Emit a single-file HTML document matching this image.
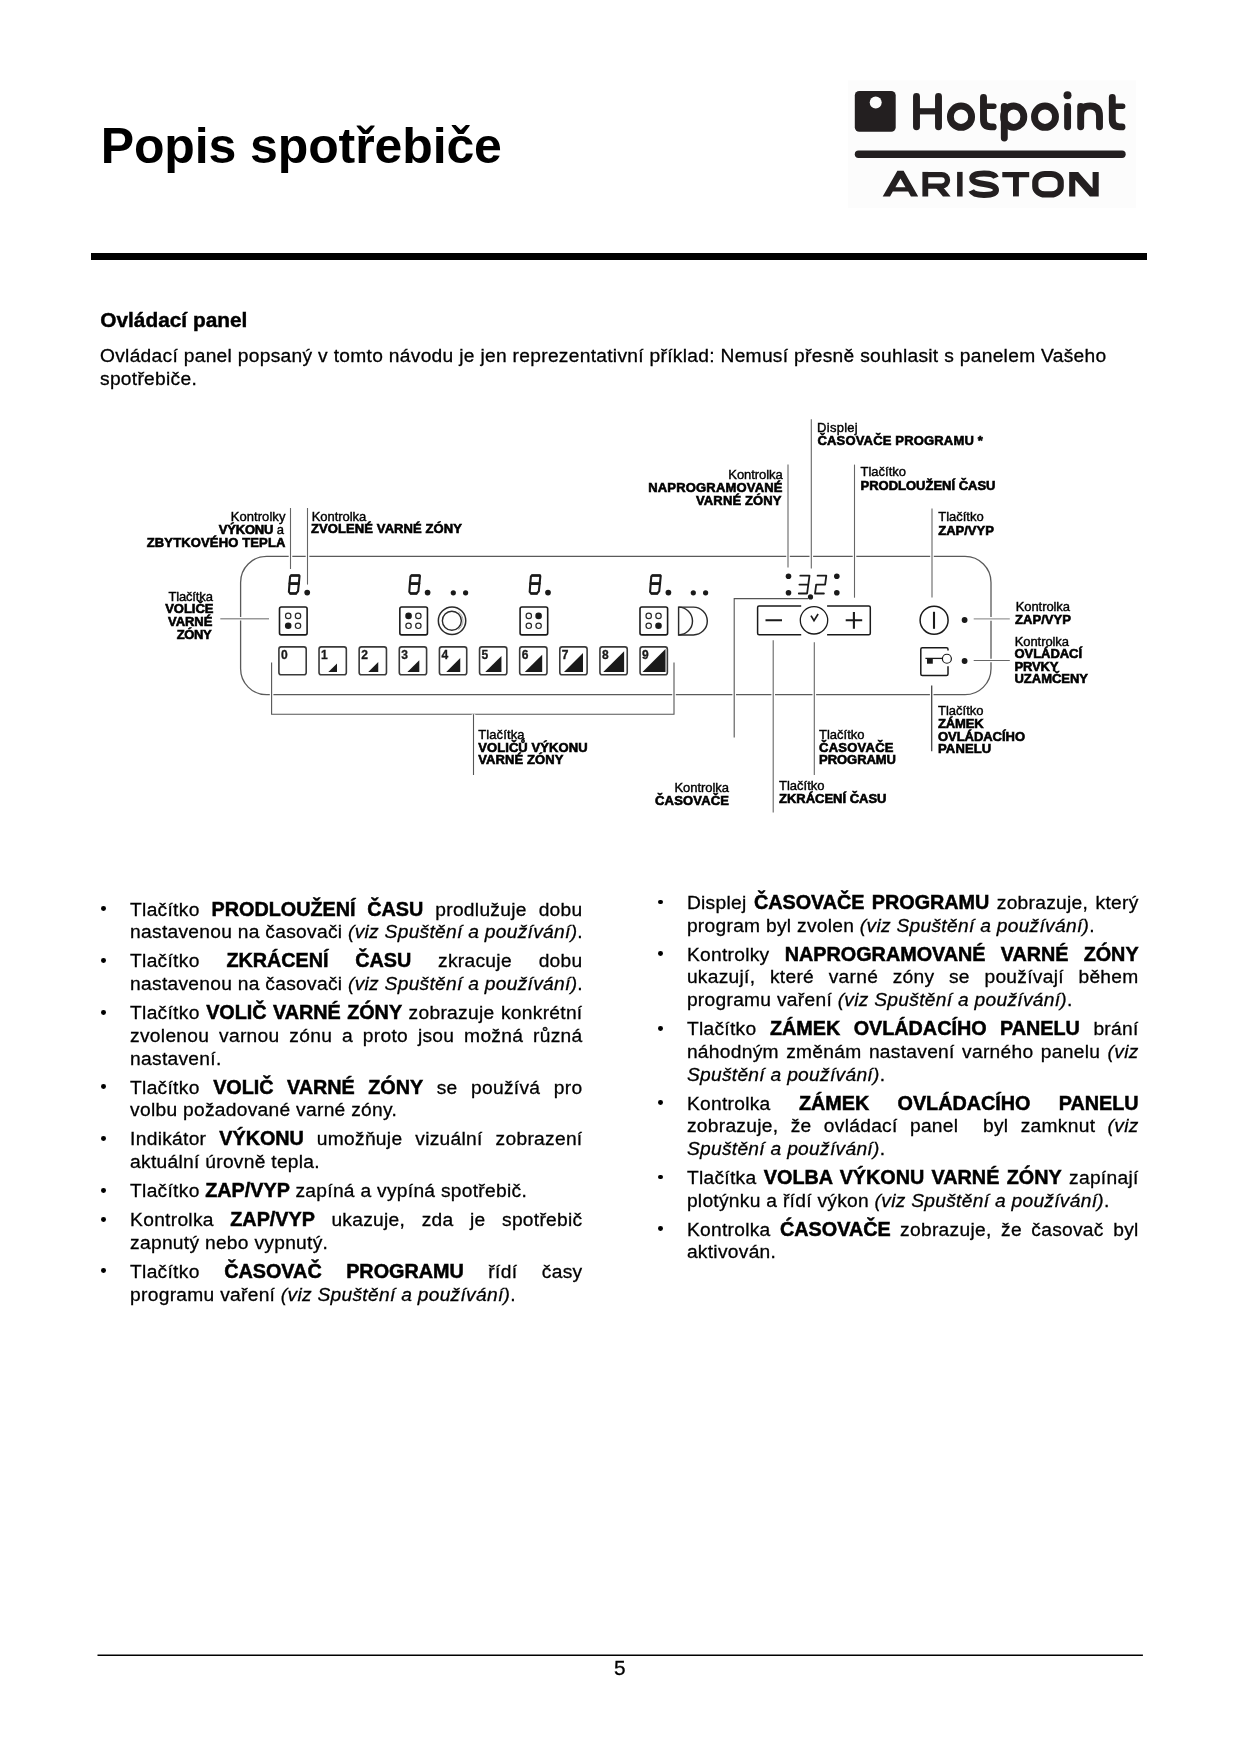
<!DOCTYPE html>
<html lang="cs"><head><meta charset="utf-8"><title>Popis spotřebiče</title>
<style>
html,body{margin:0;padding:0;background:#fff;}
body{width:1240px;height:1754px;position:relative;overflow:hidden;font-family:"Liberation Sans",sans-serif;color:#000;}
.ln{position:absolute;white-space:nowrap;line-height:22px;height:22px;font-size:19.2px;letter-spacing:0.29px;-webkit-text-stroke:0.3px #000;}
.bl{position:absolute;width:4.9px;height:4.9px;border-radius:50%;background:#000;}
svg{position:absolute;left:0;top:0;}
svg text{font-family:"Liberation Sans",sans-serif;font-size:13px;fill:#000;}
.b{font-weight:bold;}
svg .r{stroke:#000;stroke-width:0.4px;}
svg .b{stroke:#000;stroke-width:0.6px;}
.ln b{font-size:19.79px;letter-spacing:0;line-height:0;-webkit-text-stroke:0.5px #000;}
#pg{position:absolute;left:0;top:0;width:1240px;height:1754px;will-change:transform;background:#fff;}
</style></head><body><div id="pg">
<div style="position:absolute;left:100.7px;top:118.2px;font-size:50px;font-weight:bold;line-height:56px;letter-spacing:-0.11px;white-space:nowrap;">Popis spotřebiče</div>
<div style="position:absolute;left:91.3px;top:253.2px;width:1055.7px;height:6.5px;background:#000;"></div>
<div style="position:absolute;left:100.3px;top:307.6px;font-size:20.83px;font-weight:bold;line-height:24px;-webkit-text-stroke:0.45px #000;white-space:nowrap;">Ovládací panel</div>
<div class="ln" style="left:100.00px;top:345px;width:1006.50px;text-align:justify;text-align-last:justify;">Ovládací panel popsaný v tomto návodu je jen reprezentativní příklad: Nemusí přesně souhlasit s panelem Vašeho</div>
<div class="ln" style="left:100.00px;top:368px;width:300.00px;">spotřebiče.</div>
<div class="bl" style="left:100.95px;top:906.30px;"></div>
<div class="ln" style="left:130.10px;top:899px;width:452.40px;text-align:justify;text-align-last:justify;">Tlačítko <b>PRODLOUŽENÍ ČASU</b> prodlužuje dobu</div>
<div class="ln" style="left:130.10px;top:921px;width:452.40px;text-align:justify;text-align-last:justify;">nastavenou na časovači <i>(viz Spuštění a používání)</i>.</div>
<div class="bl" style="left:100.95px;top:958.02px;"></div>
<div class="ln" style="left:130.10px;top:950px;width:452.40px;text-align:justify;text-align-last:justify;">Tlačítko <b>ZKRÁCENÍ ČASU</b> zkracuje dobu</div>
<div class="ln" style="left:130.10px;top:973px;width:452.40px;text-align:justify;text-align-last:justify;">nastavenou na časovači <i>(viz Spuštění a používání)</i>.</div>
<div class="bl" style="left:100.95px;top:1009.74px;"></div>
<div class="ln" style="left:130.10px;top:1002px;width:452.40px;text-align:justify;text-align-last:justify;">Tlačítko <b>VOLIČ VARNÉ ZÓNY</b> zobrazuje konkrétní</div>
<div class="ln" style="left:130.10px;top:1025px;width:452.40px;text-align:justify;text-align-last:justify;">zvolenou varnou zónu a proto jsou možná různá</div>
<div class="ln" style="left:130.10px;top:1048px;width:452.40px;">nastavení.</div>
<div class="bl" style="left:100.95px;top:1084.19px;"></div>
<div class="ln" style="left:130.10px;top:1077px;width:452.40px;text-align:justify;text-align-last:justify;">Tlačítko <b>VOLIČ VARNÉ ZÓNY</b> se používá pro</div>
<div class="ln" style="left:130.10px;top:1099px;width:452.40px;">volbu požadované varné zóny.</div>
<div class="bl" style="left:100.95px;top:1135.91px;"></div>
<div class="ln" style="left:130.10px;top:1128px;width:452.40px;text-align:justify;text-align-last:justify;">Indikátor <b>VÝKONU</b> umožňuje vizuální zobrazení</div>
<div class="ln" style="left:130.10px;top:1151px;width:452.40px;">aktuální úrovně tepla.</div>
<div class="bl" style="left:100.95px;top:1187.63px;"></div>
<div class="ln" style="left:130.10px;top:1180px;width:452.40px;">Tlačítko <b>ZAP/VYP</b> zapíná a vypíná spotřebič.</div>
<div class="bl" style="left:100.95px;top:1216.62px;"></div>
<div class="ln" style="left:130.10px;top:1209px;width:452.40px;text-align:justify;text-align-last:justify;">Kontrolka <b>ZAP/VYP</b> ukazuje, zda je spotřebič</div>
<div class="ln" style="left:130.10px;top:1232px;width:452.40px;">zapnutý nebo vypnutý.</div>
<div class="bl" style="left:100.95px;top:1268.34px;"></div>
<div class="ln" style="left:130.10px;top:1261px;width:452.40px;text-align:justify;text-align-last:justify;">Tlačítko <b>ČASOVAČ PROGRAMU</b> řídí časy</div>
<div class="ln" style="left:130.10px;top:1284px;width:452.40px;">programu vaření <i>(viz Spuštění a používání)</i>.</div>
<div class="bl" style="left:658.05px;top:899.50px;"></div>
<div class="ln" style="left:686.90px;top:892px;width:451.70px;text-align:justify;text-align-last:justify;">Displej <b>ČASOVAČE PROGRAMU</b> zobrazuje, který</div>
<div class="ln" style="left:686.90px;top:915px;width:451.70px;">program byl zvolen <i>(viz Spuštění a používání)</i>.</div>
<div class="bl" style="left:658.05px;top:951.22px;"></div>
<div class="ln" style="left:686.90px;top:944px;width:451.70px;text-align:justify;text-align-last:justify;">Kontrolky <b>NAPROGRAMOVANÉ VARNÉ ZÓNY</b></div>
<div class="ln" style="left:686.90px;top:966px;width:451.70px;text-align:justify;text-align-last:justify;">ukazují, které varné zóny se používají během</div>
<div class="ln" style="left:686.90px;top:989px;width:451.70px;">programu vaření <i>(viz Spuštění a používání)</i>.</div>
<div class="bl" style="left:658.05px;top:1025.67px;"></div>
<div class="ln" style="left:686.90px;top:1018px;width:451.70px;text-align:justify;text-align-last:justify;">Tlačítko <b>ZÁMEK OVLÁDACÍHO PANELU</b> brání</div>
<div class="ln" style="left:686.90px;top:1041px;width:451.70px;text-align:justify;text-align-last:justify;">náhodným změnám nastavení varného panelu <i>(viz</i></div>
<div class="ln" style="left:686.90px;top:1064px;width:451.70px;"><i>Spuštění a používání)</i>.</div>
<div class="bl" style="left:658.05px;top:1100.12px;"></div>
<div class="ln" style="left:686.90px;top:1093px;width:451.70px;text-align:justify;text-align-last:justify;">Kontrolka <b>ZÁMEK OVLÁDACÍHO PANELU</b></div>
<div class="ln" style="left:686.90px;top:1115px;width:451.70px;text-align:justify;text-align-last:justify;">zobrazuje, že ovládací panel&nbsp; byl zamknut <i>(viz</i></div>
<div class="ln" style="left:686.90px;top:1138px;width:451.70px;"><i>Spuštění a používání)</i>.</div>
<div class="bl" style="left:658.05px;top:1174.57px;"></div>
<div class="ln" style="left:686.90px;top:1167px;width:451.70px;text-align:justify;text-align-last:justify;">Tlačítka <b>VOLBA VÝKONU VARNÉ ZÓNY</b> zapínají</div>
<div class="ln" style="left:686.90px;top:1190px;width:451.70px;">plotýnku a řídí výkon <i>(viz Spuštění a používání)</i>.</div>
<div class="bl" style="left:658.05px;top:1226.29px;"></div>
<div class="ln" style="left:686.90px;top:1219px;width:451.70px;text-align:justify;text-align-last:justify;">Kontrolka <b>ĆASOVAČE</b> zobrazuje, že časovač byl</div>
<div class="ln" style="left:686.90px;top:1241px;width:451.70px;">aktivován.</div>
<div style="position:absolute;left:599.7px;width:40px;text-align:center;top:1656px;font-size:20.8px;line-height:24px;-webkit-text-stroke:0.3px #000;">5</div>
<svg width="1240" height="1754" viewBox="0 0 1240 1754">
<rect x="848" y="80.5" width="288" height="127.5" fill="#fcfcfc"/>
<rect x="854.8" y="91" width="40.9" height="40.8" rx="4.5" fill="#231f20"/>
<circle cx="875.7" cy="102.5" r="6" fill="#fcfcfc"/>
<path d="M916.5 96.5 V126.8 M938.5 96.5 V126.8 M983.5 97.5 V119.6 Q983.5 126.9 990.8 126.9 H993.2 M1112.3 97.5 V119.6 Q1112.3 126.9 1119.6 126.9 H1122.0 M1004.3 106.5 V138.1 M1067.6 106.5 V126.8 M1080.7 106.5 V126.8 M1080.7 115 C1080.7 108.5 1084.5 106 1090.2 106 C1096 106 1099.5 109 1099.5 116 V126.8" fill="none" stroke="#231f20" stroke-width="6.9" stroke-linecap="round" stroke-linejoin="round"/>
<path d="M916.5 111.3 H938.5" fill="none" stroke="#231f20" stroke-width="6.2"/>
<path d="M983.5 106.2 H993.9 M1112.3 106.2 H1122.7" fill="none" stroke="#231f20" stroke-width="5.4" stroke-linecap="round"/>
<ellipse cx="961" cy="116.65" rx="10.6" ry="10.7" fill="none" stroke="#231f20" stroke-width="6.9"/>
<ellipse cx="1013.7" cy="116.65" rx="10.1" ry="10.7" fill="none" stroke="#231f20" stroke-width="6.9"/>
<ellipse cx="1045" cy="116.65" rx="10.5" ry="10.7" fill="none" stroke="#231f20" stroke-width="6.9"/>
<circle cx="1067.5" cy="95.2" r="4" fill="#231f20"/>
<rect x="854.8" y="150.5" width="270.9" height="7.4" rx="3.7" fill="#231f20"/>
<path d="M882.7 196.5 L897.4 170.8 L903.6 170.8 L918.2 196.5 L910.9 196.5 L908.2 191.6 L892.8 191.6 L890.0 196.5 Z M900.45 178.4 L905.5 187.2 L895.4 187.2 Z" fill="#231f20" fill-rule="evenodd"/>
<path d="M925.3 174.6 H941.7 A5.75 5.75 0 0 1 941.7 186.1 H925.3" fill="none" stroke="#231f20" stroke-width="5.4"/>
<rect x="922.4" y="171.9" width="5.8" height="24.6" fill="#231f20"/>
<path d="M935.6 187.5 L943.3 187.5 L950.6 196.5 L942.9 196.5 Z" fill="#231f20"/>
<rect x="957.1" y="171.9" width="5.5" height="24.6" fill="#231f20"/>
<path d="M995.9 177.6 C994.6 174.6 990 173.5 984 173.5 C976 173.5 972.3 175.2 972.3 178.3 C972.3 181.6 976.5 182.8 984 184 C992 185.2 996 186.5 996 190 C996 193.6 991.5 194.9 984 194.9 C977 194.9 972.8 193.6 971.3 190.4" fill="none" stroke="#231f20" stroke-width="6.0"/>
<rect x="1002.3" y="172.0" width="26.9" height="5.3" fill="#231f20"/><rect x="1013" y="172.0" width="5.9" height="24.4" fill="#231f20"/>
<rect x="1035.3" y="174.0" width="25.4" height="20.4" rx="9.5" ry="8" fill="none" stroke="#231f20" stroke-width="6.2"/>
<path d="M1069.2 172.0 L1078.2 172.0 L1092.6 188.3 L1092.6 172.0 L1098.7 172.0 L1098.7 196.4 L1089.8 196.4 L1075.3 180.1 L1075.3 196.4 L1069.2 196.4 Z" fill="#231f20"/>
<rect x="240.6" y="556.4" width="750.4" height="138.3" rx="26" ry="26" fill="none" stroke="#5a5a5a" stroke-width="1.3"/>
<path d="M290.50 508.00 L290.50 569.00" fill="none" stroke="#fff" stroke-width="3.6"/>
<path d="M290.50 508.00 L290.50 569.00" fill="none" stroke="#666" stroke-width="1.1"/>
<path d="M307.50 508.00 L307.50 584.60" fill="none" stroke="#fff" stroke-width="3.6"/>
<path d="M307.50 508.00 L307.50 584.60" fill="none" stroke="#666" stroke-width="1.1"/>
<path d="M220.30 618.70 L269.00 618.70" fill="none" stroke="#fff" stroke-width="3.6"/>
<path d="M220.30 618.70 L269.00 618.70" fill="none" stroke="#999" stroke-width="1.4"/>
<path d="M271.60 662.60 L271.60 714.20 L674.00 714.20 L674.00 662.60" fill="none" stroke="#fff" stroke-width="3.6"/>
<path d="M271.60 662.60 L271.60 714.20 L674.00 714.20 L674.00 662.60" fill="none" stroke="#555" stroke-width="1.1"/>
<path d="M473.50 714.20 L473.50 775.00" fill="none" stroke="#fff" stroke-width="3.6"/>
<path d="M473.50 714.20 L473.50 775.00" fill="none" stroke="#555" stroke-width="1.1"/>
<path d="M788.00 464.60 L788.00 567.50" fill="none" stroke="#fff" stroke-width="3.6"/>
<path d="M788.00 464.60 L788.00 567.50" fill="none" stroke="#666" stroke-width="1.1"/>
<path d="M811.30 419.30 L811.30 568.40" fill="none" stroke="#fff" stroke-width="3.6"/>
<path d="M811.30 419.30 L811.30 568.40" fill="none" stroke="#666" stroke-width="1.1"/>
<path d="M854.50 464.60 L854.50 597.70" fill="none" stroke="#fff" stroke-width="3.6"/>
<path d="M854.50 464.60 L854.50 597.70" fill="none" stroke="#666" stroke-width="1.1"/>
<path d="M932.00 508.50 L932.00 597.50" fill="none" stroke="#fff" stroke-width="3.6"/>
<path d="M932.00 508.50 L932.00 597.50" fill="none" stroke="#666" stroke-width="1.1"/>
<path d="M808.00 598.60 L734.20 598.60 L734.20 737.50" fill="none" stroke="#fff" stroke-width="3.6"/>
<path d="M808.00 598.60 L734.20 598.60 L734.20 737.50" fill="none" stroke="#555" stroke-width="1.1"/>
<path d="M773.20 640.20 L773.20 812.50" fill="none" stroke="#fff" stroke-width="3.6"/>
<path d="M773.20 640.20 L773.20 812.50" fill="none" stroke="#666" stroke-width="1.1"/>
<path d="M814.30 642.30 L814.30 775.00" fill="none" stroke="#fff" stroke-width="3.6"/>
<path d="M814.30 642.30 L814.30 775.00" fill="none" stroke="#666" stroke-width="1.1"/>
<path d="M931.70 685.50 L931.70 751.20" fill="none" stroke="#fff" stroke-width="3.6"/>
<path d="M931.70 685.50 L931.70 751.20" fill="none" stroke="#444" stroke-width="1.3"/>
<path d="M973.70 618.90 L1009.80 618.90" fill="none" stroke="#fff" stroke-width="3.6"/>
<path d="M973.70 618.90 L1009.80 618.90" fill="none" stroke="#999" stroke-width="1.4"/>
<path d="M973.70 660.50 L1009.80 660.50" fill="none" stroke="#fff" stroke-width="3.6"/>
<path d="M973.70 660.50 L1009.80 660.50" fill="none" stroke="#666" stroke-width="1.0"/>
<path d="M291.20 575.50 L298.90 575.50 L299.50 576.10 L298.80 583.60 L289.50 583.60 L290.10 576.60 Z M289.50 583.60 L298.80 583.60 L298.00 591.30 L295.90 593.50 L290.30 593.50 L288.90 591.90 Z" fill="none" stroke="#1a1a1a" stroke-width="2.1" stroke-linejoin="round"/>
<path d="M291.40 575.5 L298.90 575.5 M289.90 583.6 L298.60 583.6 M290.60 593.5 L295.90 593.5" fill="none" stroke="#1a1a1a" stroke-width="2.7" stroke-linecap="round"/>
<path d="M411.60 575.50 L419.30 575.50 L419.90 576.10 L419.20 583.60 L409.90 583.60 L410.50 576.60 Z M409.90 583.60 L419.20 583.60 L418.40 591.30 L416.30 593.50 L410.70 593.50 L409.30 591.90 Z" fill="none" stroke="#1a1a1a" stroke-width="2.1" stroke-linejoin="round"/>
<path d="M411.80 575.5 L419.30 575.5 M410.30 583.6 L419.00 583.6 M411.00 593.5 L416.30 593.5" fill="none" stroke="#1a1a1a" stroke-width="2.7" stroke-linecap="round"/>
<path d="M532.00 575.50 L539.70 575.50 L540.30 576.10 L539.60 583.60 L530.30 583.60 L530.90 576.60 Z M530.30 583.60 L539.60 583.60 L538.80 591.30 L536.70 593.50 L531.10 593.50 L529.70 591.90 Z" fill="none" stroke="#1a1a1a" stroke-width="2.1" stroke-linejoin="round"/>
<path d="M532.20 575.5 L539.70 575.5 M530.70 583.6 L539.40 583.6 M531.40 593.5 L536.70 593.5" fill="none" stroke="#1a1a1a" stroke-width="2.7" stroke-linecap="round"/>
<path d="M652.40 575.50 L660.10 575.50 L660.70 576.10 L660.00 583.60 L650.70 583.60 L651.30 576.60 Z M650.70 583.60 L660.00 583.60 L659.20 591.30 L657.10 593.50 L651.50 593.50 L650.10 591.90 Z" fill="none" stroke="#1a1a1a" stroke-width="2.1" stroke-linejoin="round"/>
<path d="M652.60 575.5 L660.10 575.5 M651.10 583.6 L659.80 583.6 M651.80 593.5 L657.10 593.5" fill="none" stroke="#1a1a1a" stroke-width="2.7" stroke-linecap="round"/>
<circle cx="307.2" cy="592.6" r="2.85" fill="#1a1a1a"/>
<circle cx="427.6" cy="592.6" r="2.85" fill="#1a1a1a"/>
<circle cx="548.0" cy="592.6" r="2.85" fill="#1a1a1a"/>
<circle cx="668.4000000000001" cy="592.6" r="2.85" fill="#1a1a1a"/>
<circle cx="453.3" cy="592.8" r="2.6" fill="#1a1a1a"/>
<circle cx="465.6" cy="592.8" r="2.6" fill="#1a1a1a"/>
<circle cx="693.3" cy="592.8" r="2.6" fill="#1a1a1a"/>
<circle cx="705.6" cy="592.8" r="2.6" fill="#1a1a1a"/>
<rect x="279.50" y="606.95" width="27.6" height="27.95" rx="1.8" fill="none" stroke="#1a1a1a" stroke-width="1.6"/>
<circle cx="288.20" cy="615.9" r="2.7" fill="none" stroke="#2a2a2a" stroke-width="1.2"/>
<circle cx="298.00" cy="615.9" r="2.7" fill="none" stroke="#2a2a2a" stroke-width="1.2"/>
<circle cx="288.20" cy="625.8" r="3.3" fill="#1a1a1a"/>
<circle cx="298.00" cy="625.8" r="2.7" fill="none" stroke="#2a2a2a" stroke-width="1.2"/>
<rect x="399.85" y="606.95" width="27.6" height="27.95" rx="1.8" fill="none" stroke="#1a1a1a" stroke-width="1.6"/>
<circle cx="408.55" cy="615.9" r="3.3" fill="#1a1a1a"/>
<circle cx="418.35" cy="615.9" r="2.7" fill="none" stroke="#2a2a2a" stroke-width="1.2"/>
<circle cx="408.55" cy="625.8" r="2.7" fill="none" stroke="#2a2a2a" stroke-width="1.2"/>
<circle cx="418.35" cy="625.8" r="2.7" fill="none" stroke="#2a2a2a" stroke-width="1.2"/>
<rect x="520.10" y="606.95" width="27.6" height="27.95" rx="1.8" fill="none" stroke="#1a1a1a" stroke-width="1.6"/>
<circle cx="528.80" cy="615.9" r="2.7" fill="none" stroke="#2a2a2a" stroke-width="1.2"/>
<circle cx="538.60" cy="615.9" r="3.3" fill="#1a1a1a"/>
<circle cx="528.80" cy="625.8" r="2.7" fill="none" stroke="#2a2a2a" stroke-width="1.2"/>
<circle cx="538.60" cy="625.8" r="2.7" fill="none" stroke="#2a2a2a" stroke-width="1.2"/>
<rect x="640.00" y="606.95" width="27.6" height="27.95" rx="1.8" fill="none" stroke="#1a1a1a" stroke-width="1.6"/>
<circle cx="648.70" cy="615.9" r="2.7" fill="none" stroke="#2a2a2a" stroke-width="1.2"/>
<circle cx="658.50" cy="615.9" r="2.7" fill="none" stroke="#2a2a2a" stroke-width="1.2"/>
<circle cx="648.70" cy="625.8" r="2.7" fill="none" stroke="#2a2a2a" stroke-width="1.2"/>
<circle cx="658.50" cy="625.8" r="3.3" fill="#1a1a1a"/>
<circle cx="452.05" cy="620.75" r="13.7" fill="none" stroke="#2a2a2a" stroke-width="1.5"/>
<circle cx="451.85" cy="620.7" r="9.5" fill="none" stroke="#2a2a2a" stroke-width="1.4"/>
<path d="M458.5 611.9 A10.9 10.9 0 0 1 458.5 629.5" fill="none" stroke="#9a9a9a" stroke-width="0.9"/>
<path d="M678.6 607.1 L693.4 607.1 A13.9 13.9 0 0 1 693.4 634.9 L678.6 634.9 Z" fill="none" stroke="#2a2a2a" stroke-width="1.45"/>
<path d="M678.6 607.1 A13.9 13.9 0 0 1 678.6 634.9" fill="none" stroke="#2a2a2a" stroke-width="1.45"/>
<rect x="278.90" y="646.9" width="27.3" height="27.8" rx="2.3" fill="none" stroke="#3a3a3a" stroke-width="1.6"/>
<text x="280.90" y="659.1" class="b" style="font-size:13.6px;fill:#1a1a1a;stroke:#1a1a1a;stroke-width:0.35px" textLength="6.7" lengthAdjust="spacingAndGlyphs">0</text>
<rect x="319.03" y="646.9" width="27.3" height="27.8" rx="2.3" fill="none" stroke="#3a3a3a" stroke-width="1.6"/>
<text x="321.03" y="659.1" class="b" style="font-size:13.6px;fill:#1a1a1a;stroke:#1a1a1a;stroke-width:0.35px" textLength="6.7" lengthAdjust="spacingAndGlyphs">1</text>
<path d="M328.33 672.1 L337.03 672.1 L337.03 663.40 Z" fill="#1a1a1a"/>
<rect x="359.16" y="646.9" width="27.3" height="27.8" rx="2.3" fill="none" stroke="#3a3a3a" stroke-width="1.6"/>
<text x="361.16" y="659.1" class="b" style="font-size:13.6px;fill:#1a1a1a;stroke:#1a1a1a;stroke-width:0.35px" textLength="6.7" lengthAdjust="spacingAndGlyphs">2</text>
<path d="M368.26 672.1 L378.26 672.1 L378.26 662.10 Z" fill="#1a1a1a"/>
<rect x="399.29" y="646.9" width="27.3" height="27.8" rx="2.3" fill="none" stroke="#3a3a3a" stroke-width="1.6"/>
<text x="401.29" y="659.1" class="b" style="font-size:13.6px;fill:#1a1a1a;stroke:#1a1a1a;stroke-width:0.35px" textLength="6.7" lengthAdjust="spacingAndGlyphs">3</text>
<path d="M407.39 672.1 L419.29 672.1 L419.29 660.20 Z" fill="#1a1a1a"/>
<rect x="439.42" y="646.9" width="27.3" height="27.8" rx="2.3" fill="none" stroke="#3a3a3a" stroke-width="1.6"/>
<text x="441.42" y="659.1" class="b" style="font-size:13.6px;fill:#1a1a1a;stroke:#1a1a1a;stroke-width:0.35px" textLength="6.7" lengthAdjust="spacingAndGlyphs">4</text>
<path d="M446.22 672.1 L460.22 672.1 L460.22 658.10 Z" fill="#1a1a1a"/>
<rect x="479.55" y="646.9" width="27.3" height="27.8" rx="2.3" fill="none" stroke="#3a3a3a" stroke-width="1.6"/>
<text x="481.55" y="659.1" class="b" style="font-size:13.6px;fill:#1a1a1a;stroke:#1a1a1a;stroke-width:0.35px" textLength="6.7" lengthAdjust="spacingAndGlyphs">5</text>
<path d="M485.25 672.1 L501.45 672.1 L501.45 655.90 Z" fill="#1a1a1a"/>
<rect x="519.68" y="646.9" width="27.3" height="27.8" rx="2.3" fill="none" stroke="#3a3a3a" stroke-width="1.6"/>
<text x="521.68" y="659.1" class="b" style="font-size:13.6px;fill:#1a1a1a;stroke:#1a1a1a;stroke-width:0.35px" textLength="6.7" lengthAdjust="spacingAndGlyphs">6</text>
<path d="M524.78 672.1 L542.18 672.1 L542.18 654.70 Z" fill="#1a1a1a"/>
<rect x="559.81" y="646.9" width="27.3" height="27.8" rx="2.3" fill="none" stroke="#3a3a3a" stroke-width="1.6"/>
<text x="561.81" y="659.1" class="b" style="font-size:13.6px;fill:#1a1a1a;stroke:#1a1a1a;stroke-width:0.35px" textLength="6.7" lengthAdjust="spacingAndGlyphs">7</text>
<path d="M564.01 672.1 L583.01 672.1 L583.01 653.10 Z" fill="#1a1a1a"/>
<rect x="599.94" y="646.9" width="27.3" height="27.8" rx="2.3" fill="none" stroke="#3a3a3a" stroke-width="1.6"/>
<text x="601.94" y="659.1" class="b" style="font-size:13.6px;fill:#1a1a1a;stroke:#1a1a1a;stroke-width:0.35px" textLength="6.7" lengthAdjust="spacingAndGlyphs">8</text>
<path d="M603.24 672.1 L624.14 672.1 L624.14 651.20 Z" fill="#1a1a1a"/>
<rect x="640.07" y="646.9" width="27.3" height="27.8" rx="2.3" fill="none" stroke="#3a3a3a" stroke-width="1.6"/>
<text x="642.07" y="659.1" class="b" style="font-size:13.6px;fill:#1a1a1a;stroke:#1a1a1a;stroke-width:0.35px" textLength="6.7" lengthAdjust="spacingAndGlyphs">9</text>
<path d="M642.47 672.1 L665.47 672.1 L665.47 649.10 Z" fill="#1a1a1a"/>
<circle cx="788.5" cy="576.3" r="2.8" fill="#1a1a1a"/>
<circle cx="788.5" cy="592.8" r="2.8" fill="#1a1a1a"/>
<circle cx="836.8" cy="576.3" r="2.8" fill="#1a1a1a"/>
<circle cx="836.8" cy="592.8" r="2.8" fill="#1a1a1a"/>
<circle cx="810.5" cy="596.9" r="2.6" fill="#1a1a1a"/>
<path d="M800.3 575.7 L809.5 575.7 L807.1 593.5 L798.8 593.5 M799.4 584.6 L808.3 584.6" fill="none" stroke="#1a1a1a" stroke-width="1.8" stroke-linejoin="round" stroke-linecap="round"/>
<path d="M817.6 575.7 L826.3 575.7 L825.1 584.6 L816.2 584.6 L815 593.5 L823.9 593.5" fill="none" stroke="#1a1a1a" stroke-width="1.8" stroke-linejoin="round" stroke-linecap="round"/>
<path d="M801.2 606.1 L759.1 606.1 Q757.6 606.1 757.6 607.6 L757.6 633.2 Q757.6 634.7 759.1 634.7 L801.2 634.7" fill="none" stroke="#1a1a1a" stroke-width="1.5"/>
<path d="M827.1 606.1 L868.8 606.1 Q870.3 606.1 870.3 607.6 L870.3 633.2 Q870.3 634.7 868.8 634.7 L827.1 634.7" fill="none" stroke="#1a1a1a" stroke-width="1.5"/>
<circle cx="814" cy="620.3" r="13.7" fill="none" stroke="#1a1a1a" stroke-width="1.3"/>
<path d="M811 615.6 L814 620.6 L818.1 614" fill="none" stroke="#1a1a1a" stroke-width="1.7"/>
<path d="M765.5 620.3 L782 620.3 M845.7 620.3 L862.2 620.3 M853.9 612.1 L853.9 628.7" fill="none" stroke="#1a1a1a" stroke-width="2.1"/>
<circle cx="934.1" cy="620.2" r="14" fill="none" stroke="#1a1a1a" stroke-width="1.5"/>
<path d="M934 611.8 L934 628.8" stroke="#1a1a1a" stroke-width="2.1"/>
<circle cx="964.6" cy="620.0" r="2.9" fill="#1a1a1a"/>
<circle cx="964.6" cy="661.0" r="2.9" fill="#1a1a1a"/>
<path d="M948 650.6 L948 649.2 Q948 647.7 946.5 647.7 L922.3 647.7 Q920.8 647.7 920.8 649.2 L920.8 674 Q920.8 675.5 922.3 675.5 L946.5 675.5 Q948 675.5 948 674 L948 666.3" fill="none" stroke="#1a1a1a" stroke-width="1.5"/>
<circle cx="946.9" cy="658.75" r="4.5" fill="#fff" stroke="#1a1a1a" stroke-width="1.2"/>
<path d="M925.4 658.4 L942.3 658.4" stroke="#1a1a1a" stroke-width="1.3"/>
<rect x="927" y="658.4" width="5.8" height="5.3" fill="#1a1a1a"/>
<text x="230.7" y="521" class="r" textLength="54.7" lengthAdjust="spacing">Kontrolky</text>
<text x="218.7" y="533.8" textLength="65.3" lengthAdjust="spacing"><tspan class="b">VÝKONU</tspan><tspan class="r"> a</tspan></text>
<text x="146.7" y="546.7" class="b" textLength="138.7" lengthAdjust="spacing">ZBYTKOVÉHO TEPLA</text>
<text x="311.7" y="520.7" class="r" textLength="54.5" lengthAdjust="spacing">Kontrolka</text>
<text x="311" y="533" class="b" textLength="151" lengthAdjust="spacing">ZVOLENÉ VARNÉ ZÓNY</text>
<text x="168.4" y="600.6" class="r" textLength="44.5" lengthAdjust="spacing">Tlačítka</text>
<text x="165.2" y="612.6" class="b" textLength="48.3" lengthAdjust="spacing">VOLIČE</text>
<text x="168.1" y="625.8" class="b" textLength="44.2" lengthAdjust="spacing">VARNÉ</text>
<text x="176.8" y="638.7" class="b" textLength="34.8" lengthAdjust="spacing">ZÓNY</text>
<text x="728.3" y="479.4" class="r" textLength="54.5" lengthAdjust="spacing">Kontrolka</text>
<text x="648.2" y="492" class="b" textLength="134.3" lengthAdjust="spacing">NAPROGRAMOVANÉ</text>
<text x="696" y="505" class="b" textLength="85.5" lengthAdjust="spacing">VARNÉ ZÓNY</text>
<text x="817.1" y="431.5" class="r" textLength="40.6" lengthAdjust="spacing">Displej</text>
<text x="817.5" y="444.7" class="b" textLength="165.3" lengthAdjust="spacing">ČASOVAČE PROGRAMU *</text>
<text x="860.5" y="476" class="r">Tlačítko</text>
<text x="860.5" y="489.7" class="b" textLength="135" lengthAdjust="spacing">PRODLOUŽENÍ ČASU</text>
<text x="938.2" y="521.4" class="r">Tlačítko</text>
<text x="938.2" y="535" class="b" textLength="55.6" lengthAdjust="spacing">ZAP/VYP</text>
<text x="1015.7" y="610.75" class="r" textLength="54.3" lengthAdjust="spacing">Kontrolka</text>
<text x="1015" y="623.75" class="b" textLength="56" lengthAdjust="spacing">ZAP/VYP</text>
<text x="1014.7" y="645.5" class="r" textLength="54.3" lengthAdjust="spacing">Kontrolka</text>
<text x="1014.5" y="657.5" class="b" textLength="67.5" lengthAdjust="spacing">OVLÁDACÍ</text>
<text x="1014.5" y="670.5" class="b" textLength="44" lengthAdjust="spacing">PRVKY</text>
<text x="1014.5" y="682.5" class="b" textLength="73.5" lengthAdjust="spacing">UZAMČENY</text>
<text x="938" y="715" class="r">Tlačítko</text>
<text x="938" y="727.5" class="b" textLength="45.75" lengthAdjust="spacing">ZÁMEK</text>
<text x="938" y="740.5" class="b" textLength="87" lengthAdjust="spacing">OVLÁDACÍHO</text>
<text x="938" y="752.5" class="b" textLength="53.25" lengthAdjust="spacing">PANELU</text>
<text x="478.2" y="739.3" class="r" textLength="46.3" lengthAdjust="spacing">Tlačítka</text>
<text x="478.2" y="751.8" class="b" textLength="109.4" lengthAdjust="spacing">VOLIČŮ VÝKONU</text>
<text x="478.2" y="764" class="b" textLength="85.2" lengthAdjust="spacing">VARNÉ ZÓNY</text>
<text x="674.5" y="792" class="r" textLength="54.5" lengthAdjust="spacing">Kontrolka</text>
<text x="655" y="804.5" class="b" textLength="74" lengthAdjust="spacing">ČASOVAČE</text>
<text x="779" y="789.6" class="r">Tlačítko</text>
<text x="779" y="802.8" class="b" textLength="107.5" lengthAdjust="spacing">ZKRÁCENÍ ČASU</text>
<text x="819" y="738.6" class="r">Tlačítko</text>
<text x="819" y="751.5" class="b" textLength="74.5" lengthAdjust="spacing">ČASOVAČE</text>
<text x="819" y="764" class="b" textLength="77" lengthAdjust="spacing">PROGRAMU</text>
<path d="M97.5 1655.3 H1142.9" stroke="#000" stroke-width="1.4" fill="none"/>
</svg>
</div></body></html>
